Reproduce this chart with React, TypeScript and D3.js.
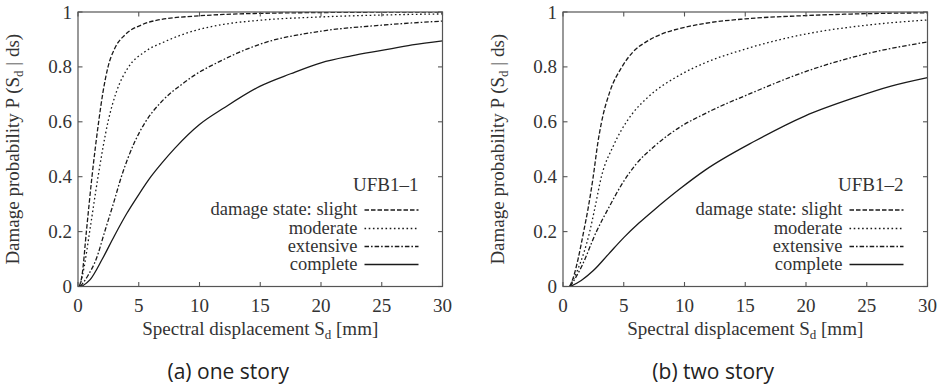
import React from 'react';
import * as d3 from 'd3';

type P = [number, number];

const xTicks = [0, 5, 10, 15, 20, 25, 30];
const yTicks = [0, 0.2, 0.4, 0.6, 0.8, 1];
const yTickLabels = ['0', '0.2', '0.4', '0.6', '0.8', '1'];
const seriesNames = ['damage state: slight', 'moderate', 'extensive', 'complete'];
const panelTitles = ['UFB1\u20131', 'UFB1\u20132'];
const captions = ['(a) one story', '(b) two story'];

// one story (UFB1-1)
const slightOne: P[] = [[0.1, 0], [0.33, 0.04], [0.69, 0.2], [1.15, 0.4], [1.7, 0.6], [2.06, 0.709], [2.47, 0.8], [3.02, 0.867], [3.85, 0.916], [5.22, 0.953], [6.6, 0.971], [9.6, 0.985], [12, 0.991], [15, 0.995], [20, 0.998], [30, 1.0]];
const moderateOne: P[] = [[0.15, 0], [0.5, 0.07], [0.96, 0.2], [1.65, 0.4], [2.47, 0.6], [3.16, 0.709], [4.12, 0.797], [5.5, 0.855], [7.14, 0.892], [9.6, 0.932], [12, 0.955], [15, 0.97], [20, 0.982], [25, 0.989], [30, 0.993]];
const extensiveOne: P[] = [[0.2, 0], [0.82, 0.04], [1.5, 0.1], [2.2, 0.2], [2.9, 0.3], [3.57, 0.4], [4.67, 0.527], [5.5, 0.596], [6.87, 0.673], [8.5, 0.735], [9.6, 0.77], [11.67, 0.82], [15, 0.883], [20, 0.93], [25, 0.952], [30, 0.967]];
const completeOne: P[] = [[0.3, 0], [1, 0.025], [2, 0.1], [3, 0.185], [4, 0.265], [5, 0.335], [6, 0.4], [7, 0.455], [8, 0.505], [10, 0.59], [12, 0.65], [15, 0.73], [17.5, 0.775], [20, 0.815], [22.5, 0.84], [25, 0.86], [27.5, 0.88], [30, 0.895]];

// two story (UFB1-2)
const slightTwo: P[] = [[0.55, 0], [0.9, 0.04], [1.24, 0.1], [1.7, 0.2], [2.06, 0.283], [2.47, 0.395], [2.88, 0.527], [3.16, 0.596], [3.85, 0.709], [4.81, 0.797], [5.77, 0.855], [6.87, 0.892], [8.24, 0.922], [9.62, 0.94], [11.6, 0.958], [15, 0.975], [20, 0.987], [25, 0.994], [30, 0.997]];
const moderateTwo: P[] = [[0.55, 0], [1.2, 0.06], [2.2, 0.2], [2.61, 0.283], [3.16, 0.4], [4.12, 0.51], [4.81, 0.57], [5.63, 0.625], [7.0, 0.69], [9.6, 0.77], [11.7, 0.815], [15, 0.865], [20, 0.92], [25, 0.952], [30, 0.971]];
const extensiveTwo: P[] = [[0.6, 0], [1.5, 0.07], [2.75, 0.2], [3.8, 0.29], [4.81, 0.37], [6, 0.445], [7.5, 0.51], [9.6, 0.58], [11.7, 0.63], [15.8, 0.71], [19.9, 0.782], [25, 0.848], [30, 0.891]];
const completeTwo: P[] = [[0.6, 0], [1.5, 0.022], [2.5, 0.058], [3.75, 0.118], [5, 0.178], [6.25, 0.231], [7.5, 0.279], [9.6, 0.355], [11.7, 0.424], [15.8, 0.53], [19.9, 0.621], [24, 0.688], [27, 0.73], [30, 0.761]];

const panelData: P[][][] = [
  [slightOne, moderateOne, extensiveOne, completeOne],
  [slightTwo, moderateTwo, extensiveTwo, completeTwo],
];

const dashes = ['4.5,2', '1.6,2.6', '4.5,2,1.6,2', ''];

const SERIF = '"Liberation Serif", "DejaVu Serif", serif';
const TEXT = '#333';
const FS = 19;

function Panel({ idx, left }: { idx: number; left: number }) {
  const width = 364.5;
  const top = 12;
  const bottom = 286.5;
  const right = left + width;
  const x = d3.scaleLinear().domain([0, 30]).range([left, right]);
  const y = d3.scaleLinear().domain([0, 1]).range([bottom, top]);
  const line = d3
    .line<P>()
    .x((d) => x(d[0]))
    .y((d) => y(d[1]))
    .curve(d3.curveMonotoneX);
  const clipId = `clip${idx}`;
  const tl = 4.5;
  const legendTextX = right - 85;
  const legendLineX1 = right - 78;
  const legendLineX2 = right - 24;
  const rowY = [210, 228.5, 246.5, 264.5];
  const labelCx = (left + right) / 2;
  return (
    <g>
      <defs>
        <clipPath id={clipId}>
          <rect x={left} y={top} width={width} height={bottom - top} />
        </clipPath>
      </defs>
      <g clipPath={`url(#${clipId})`}>
        {panelData[idx].map((s, i) => (
          <path
            key={i}
            d={line(s) || ''}
            fill="none"
            stroke="#1a1a1a"
            strokeWidth={1.3}
            strokeDasharray={dashes[i] || undefined}
          />
        ))}
      </g>
      <rect x={left} y={top} width={width} height={bottom - top} fill="none" stroke="#555" strokeWidth={1.2} />
      {xTicks.map((t) => (
        <g key={`x${t}`}>
          <line x1={x(t)} x2={x(t)} y1={bottom} y2={bottom - tl} stroke="#555" strokeWidth={1.1} />
          <line x1={x(t)} x2={x(t)} y1={top} y2={top + tl} stroke="#555" strokeWidth={1.1} />
          <text x={x(t)} y={312} textAnchor="middle" fontFamily={SERIF} fontSize={FS} fill={TEXT}>
            {t}
          </text>
        </g>
      ))}
      {yTicks.map((t, i) => (
        <g key={`y${t}`}>
          <line x1={left} x2={left + tl} y1={y(t)} y2={y(t)} stroke="#555" strokeWidth={1.1} />
          <line x1={right} x2={right - tl} y1={y(t)} y2={y(t)} stroke="#555" strokeWidth={1.1} />
          <text x={left - 6} y={y(t) + 6.5} textAnchor="end" fontFamily={SERIF} fontSize={FS} fill={TEXT}>
            {yTickLabels[i]}
          </text>
        </g>
      ))}
      <text x={labelCx} y={335} textAnchor="middle" fontFamily={SERIF} fontSize={FS} fill={TEXT}>
        Spectral displacement S
        <tspan fontSize={13} dy={4}>d</tspan>
        <tspan dy={-4}> [mm]</tspan>
      </text>
      <text
        transform={`translate(${left - 59},${(top + bottom) / 2}) rotate(-90)`}
        textAnchor="middle"
        fontFamily={SERIF}
        fontSize={FS}
        fill={TEXT}
      >
        Damage probability P (S
        <tspan fontSize={13} dy={4}>d</tspan>
        <tspan dy={-4}> | ds)</tspan>
      </text>
      <text x={right - 24} y={191} textAnchor="end" fontFamily={SERIF} fontSize={FS} fill={TEXT}>
        {panelTitles[idx]}
      </text>
      {seriesNames.map((n, i) => (
        <g key={n}>
          <text x={legendTextX} y={rowY[i] + 5} textAnchor="end" fontFamily={SERIF} fontSize={18.5} fill={TEXT}>
            {n}
          </text>
          <line
            x1={legendLineX1}
            x2={legendLineX2}
            y1={rowY[i]}
            y2={rowY[i]}
            stroke="#1a1a1a"
            strokeWidth={1.3}
            strokeDasharray={dashes[i] || undefined}
          />
        </g>
      ))}
      <text
        x={(left + right) / 2 - 32}
        y={379}
        textAnchor="middle"
        fontFamily='"Open Sans", "Noto Sans", sans-serif'
        fontSize={21}
        fill="#222"
      >
        {captions[idx]}
      </text>
    </g>
  );
}

export default function App() {
  return (
    <svg
      width={941}
      height={389}
      viewBox="0 0 941 389"
      style={{ position: 'absolute', left: 0, top: 0, background: '#fff' }}
    >
      <rect x={0} y={0} width={941} height={389} fill="#fff" />
      <Panel idx={0} left={78} />
      <Panel idx={1} left={563} />
    </svg>
  );
}
